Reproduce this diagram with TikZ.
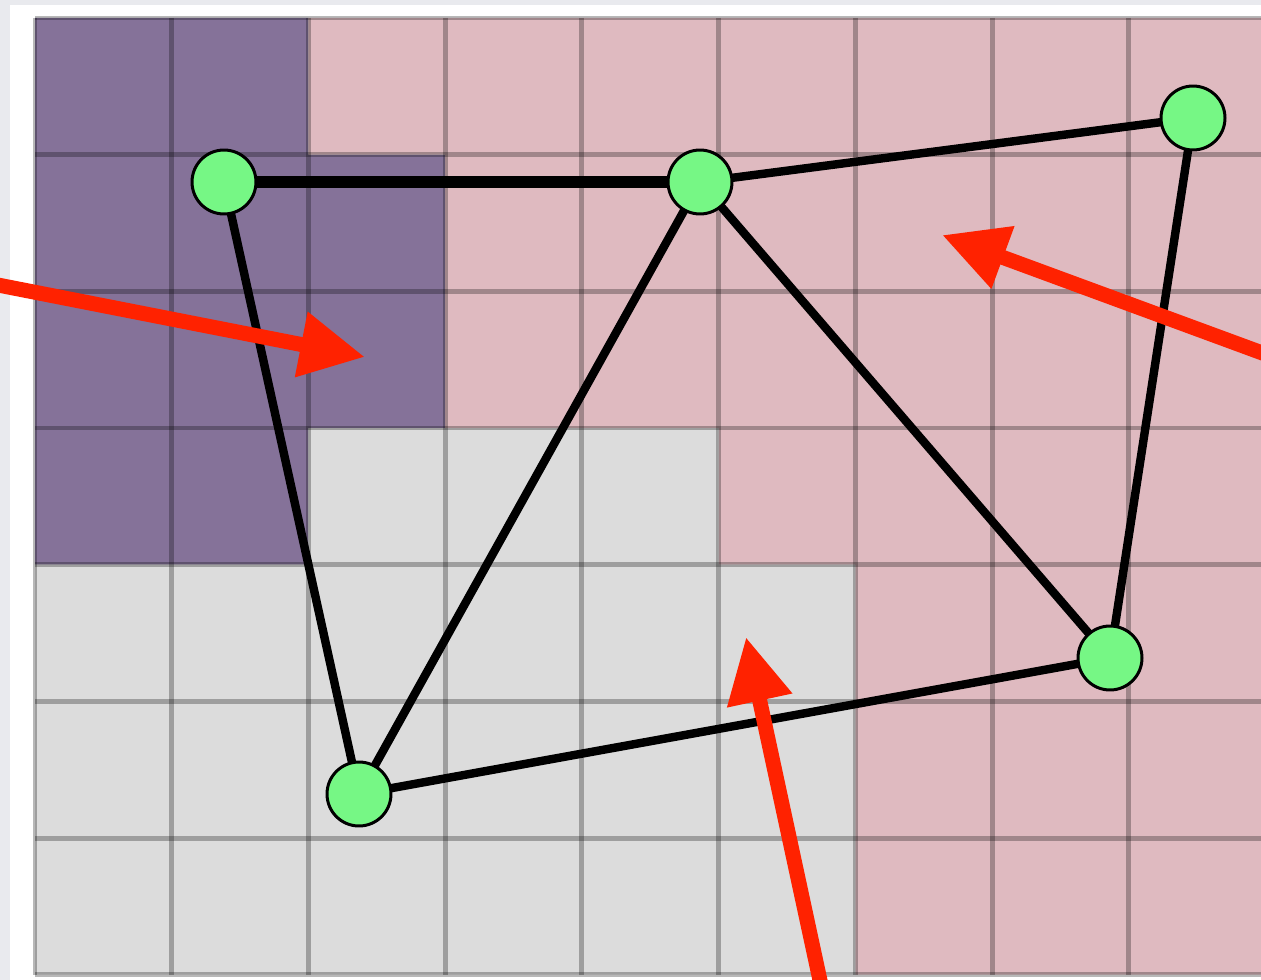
\documentclass[tikz,border=0pt]{standalone}
\usepackage{tikz}
\usetikzlibrary{arrows.meta}
\definecolor{frameback}{HTML}{E9EAEE}
\definecolor{cellpurple}{HTML}{857299}
\definecolor{cellpink}{HTML}{DFBAC0}
\definecolor{cellgray}{HTML}{DCDCDC}
\definecolor{vgreen}{HTML}{76F785}
\definecolor{pointred}{HTML}{FF2200}
\pgfdeclarelayer{cells}
\pgfdeclarelayer{links}
\pgfsetlayers{cells,links,main}

\begin{document}
\begin{tikzpicture}[x=0.02cm, y=-0.02cm,
    vertex/.style={circle, fill=vgreen, draw=black, line width=1.7pt, minimum size=1.28cm, inner sep=0pt},
    edge/.style={line width=4.8pt},
    pointer/.style={pointred, line width=8.5pt, -{Triangle[length=1.3cm, width=1.25cm]}},
    gridline/.style={black, opacity=0.28, line width=2.8pt}]
        \useasboundingbox (0,0) rectangle (1261,980);
        % cells
        \begin{pgfonlayer}{cells}
        \fill[frameback] (0,0) rectangle (1261,980);
        \fill[white] (10,5) rectangle (1261,980);
        \begin{scope}[shift={(35,18)}, x=2.735cm, y=-2.734cm]
        \fill[cellpurple] (0,0) -- (2,0) -- (2,1) -- (3,1) -- (3,3) -- (2,3) -- (2,4) -- (0,4) -- cycle;
        \fill[cellpink] (2,0) -- (9,0) -- (9,7) -- (6,7) -- (6,4) -- (5,4) -- (5,3) -- (3,3) -- (3,1) -- (2,1) -- cycle;
        \fill[cellgray] (0,4) -- (2,4) -- (2,3) -- (5,3) -- (5,4) -- (6,4) -- (6,7) -- (0,7) -- cycle;
        \foreach \c in {0,...,9} \draw[gridline] (\c,0) -- (\c,7);
        \foreach \r in {0,...,7} \draw[gridline] (0,\r) -- (9,\r);
        \end{scope}
        \end{pgfonlayer}
        % graph
        \node[vertex] (TL) at (224, 182) {}; \node[vertex] (TM) at (700, 182) {};
        \node[vertex] (TR) at (1193, 118) {};
        \node[vertex] (BR) at (1110, 658) {}; \node[vertex] (BL) at (359, 794) {};
        \begin{pgfonlayer}{links}
        \draw[line width=7pt] (TL.center) -- (TM.center);
        \draw[edge] (TM.center) -- (TR.center);
        \draw[edge] (TR.center) -- (BR.center);
        \draw[edge] (BR.center) -- (TM.center);
        \draw[edge] (TM.center) -- (BL.center);
        \draw[edge] (BL.center) -- (TL.center);
        \draw[edge] (BL.center) -- (BR.center);
        \end{pgfonlayer}
        % pointers
        \coordinate (leftend) at (-2, 285); \coordinate (lefttip) at (365, 357);
        \coordinate (rightend) at (1265, 354); \coordinate (righttip) at (942, 235);
        \coordinate (lowend) at (821, 985); \coordinate (lowtip) at (746, 637);
        \draw[pointer] (leftend) -- (lefttip);
        \draw[pointer] (rightend) -- (righttip);
        \draw[pointer] (lowend) -- (lowtip);
\end{tikzpicture}
\end{document}
